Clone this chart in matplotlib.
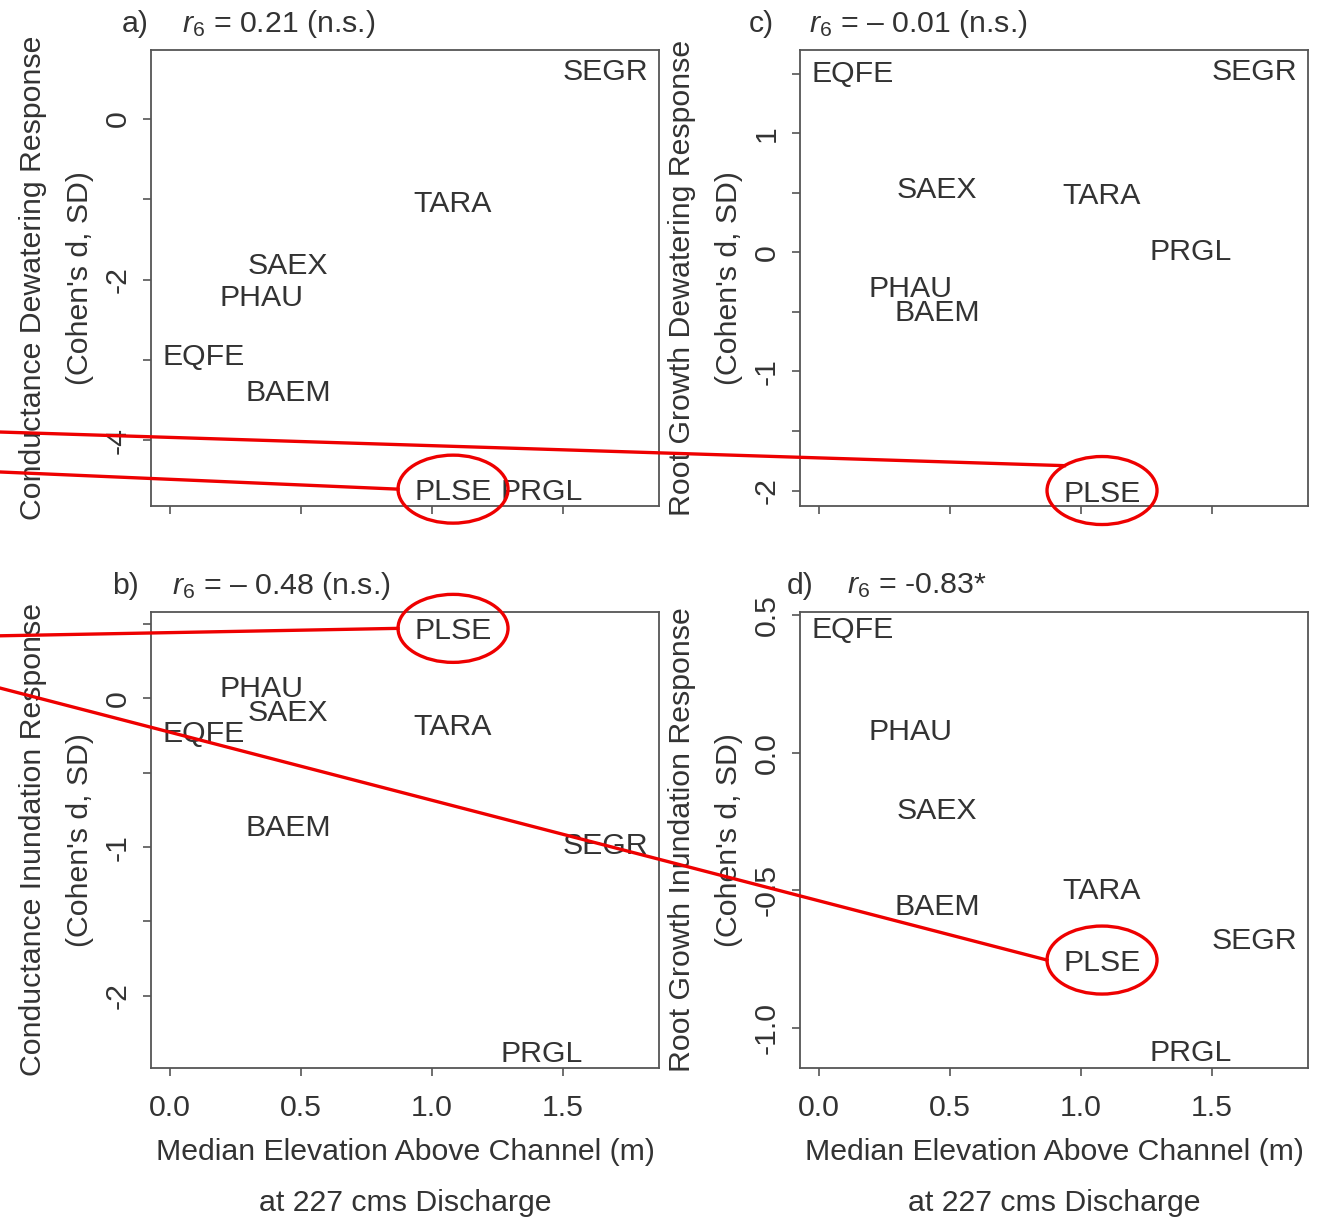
import numpy as np
import matplotlib
matplotlib.use("Agg")
import matplotlib.pyplot as plt
from matplotlib.lines import Line2D
from matplotlib.patches import Ellipse
from matplotlib.ticker import FixedLocator, FixedFormatter

plt.rcParams['font.family'] = ['Liberation Sans', 'DejaVu Sans']
plt.rcParams['mathtext.fontset'] = 'custom'
plt.rcParams['mathtext.rm'] = 'Liberation Sans'
plt.rcParams['mathtext.it'] = 'Liberation Sans:italic'
plt.rcParams['axes.unicode_minus'] = False

# species and their median elevation above channel (m)
species = ['EQFE', 'PHAU', 'SAEX', 'BAEM', 'TARA', 'PLSE', 'PRGL', 'SEGR']
elev = [0.13, 0.35, 0.45, 0.45, 1.08, 1.08, 1.42, 1.66]

# responses (Cohen's d, SD)
cond_dewater = [-2.93, -2.19, -1.79, -3.37, -1.02, -4.61, -4.61, 0.62]
cond_inund = [-0.22, 0.08, -0.08, -0.855, -0.175, 0.47, -2.37, -0.976]
root_dewater = [1.52, -0.28, 0.55, -0.48, 0.50, -2.0, 0.03, 1.54]
root_inund = [0.455, 0.087, -0.2, -0.55, -0.49, -0.753, -1.08, -0.673]

panel_tags = ['a)', 'b)', 'c)', 'd)']
r_text = ['$r_6$ = 0.21 (n.s.)', '$r_6$ = \u2013 0.48 (n.s.)',
          '$r_6$ = \u2013 0.01 (n.s.)', '$r_6$ = -0.83*']
ylabels = ['Conductance Dewatering Response', 'Conductance Inundation Response',
           'Root Growth Dewatering Response', 'Root Growth Inundation Response']
xlabel1 = 'Median Elevation Above Channel (m)'
xlabel2 = 'at 227 cms Discharge'

yticks = [[-4, -3, -2, -1, 0], [-2, -1.5, -1, -0.5, 0, 0.5],
          [-2, -1.5, -1, -0.5, 0, 0.5, 1, 1.5], [-1.0, -0.5, 0.0, 0.5]]
yticklabels = [['-4', '', '-2', '', '0'], ['-2', '', '-1', '', '0', ''],
               ['-2', '', '-1', '', '0', '', '1', ''], ['-1.0', '-0.5', '0.0', '0.5']]
ylims = [(-4.82, 0.86), (-2.485, 0.58), (-2.13, 1.70), (-1.145, 0.511)]
xlim = (-0.0725, 1.866)
xticks = [0.0, 0.5, 1.0, 1.5]
xticklabels = ['0.0', '0.5', '1.0', '1.5']

data = [cond_dewater, cond_inund, root_dewater, root_inund]

W, H = 1325, 1218
fig = plt.figure(figsize=(W / 100, H / 100), dpi=100)
lefts = [151, 151, 800, 800]
tops = [50, 612, 50, 612]
aw, ah = 508, 456
tag_off = [-29, -39, -51, -13]  # px from left of box

txt = '#333333'
edge = '#555555'
fs = 21.8

axes = []
for i in range(4):
    ax = fig.add_axes([lefts[i] / W, 1 - (tops[i] + ah) / H, aw / W, ah / H])
    axes.append(ax)
    for x, y, s in zip(elev, data[i], species):
        ax.text(x, y, s, ha='center', va='center_baseline', fontsize=fs, color=txt)
    ax.set_xlim(xlim)
    ax.set_ylim(ylims[i])
    ax.xaxis.set_major_locator(FixedLocator(xticks))
    ax.yaxis.set_major_locator(FixedLocator(yticks[i]))
    ax.yaxis.set_major_formatter(FixedFormatter(yticklabels[i]))
    if i in (1, 3):
        ax.set_xticklabels(xticklabels)
    else:
        ax.set_xticklabels([])
    ax.tick_params(length=6, width=1.2, color=edge, labelsize=fs, labelcolor=txt)
    ax.tick_params(axis='x', pad=13)
    ax.tick_params(axis='y', pad=8)
    for lab in ax.get_yticklabels():
        lab.set_rotation(90)
        lab.set_va('center')
    for sp in ax.spines.values():
        sp.set_color(edge)
        sp.set_linewidth(1.3)
    ax.text(-118 / aw, 0.5, ylabels[i], rotation=90, ha='center', va='center',
            fontsize=fs, color=txt, transform=ax.transAxes)
    ax.text(-71 / aw, 0.5, "(Cohen's d, SD)", rotation=90, ha='center', va='center',
            fontsize=fs, color=txt, transform=ax.transAxes)
    ax.text(tag_off[i] / aw, 1 + 26 / ah, panel_tags[i], ha='left', va='center',
            fontsize=fs, color=txt, transform=ax.transAxes)
    ax.text((tag_off[i] + 60) / aw, 1 + 26 / ah, r_text[i], ha='left', va='center',
            fontsize=fs, color=txt, transform=ax.transAxes)
    if i in (1, 3):
        ax.text(0.5, -84 / ah, xlabel1, ha='center', va='center', fontsize=fs,
                color=txt, transform=ax.transAxes)
        ax.text(0.5, -135 / ah, xlabel2, ha='center', va='center', fontsize=fs,
                color=txt, transform=ax.transAxes)

# red callouts: ellipse around PLSE in each panel, line from the left edge
red = '#ee0000'
k = species.index('PLSE')
start_y = [0.6125, 0.478, 0.6453, 0.4351]
end_ang = [180, 180, 133, 180]
ew, eh = 110, 68
inv = fig.transFigure.inverted()
for i, ax in enumerate(axes):
    cx, cy = ax.transData.transform((elev[k], data[i][k]))
    c = inv.transform((cx, cy))
    fig.add_artist(Ellipse(c, ew / W, eh / H, transform=fig.transFigure,
                           fill=False, edgecolor=red, linewidth=2.4, zorder=5))
    t = np.deg2rad(end_ang[i])
    ex, ey = inv.transform((cx + ew / 2 * np.cos(t), cy + eh / 2 * np.sin(t)))
    fig.add_artist(Line2D([0, ex], [start_y[i], ey], transform=fig.transFigure,
                          color=red, linewidth=2.4, zorder=5))

fig.savefig('out.png', dpi=100)
